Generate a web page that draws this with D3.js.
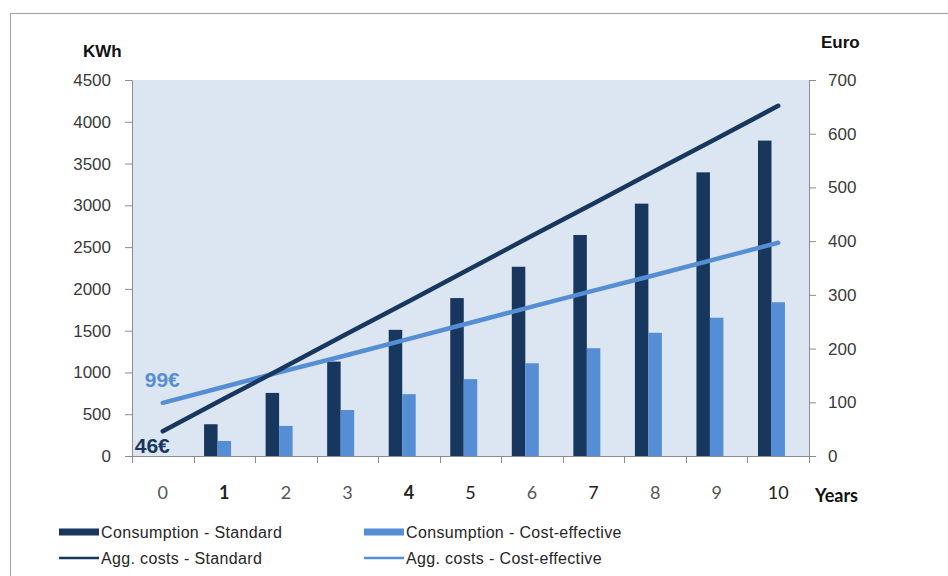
<!DOCTYPE html>
<html>
<head>
<meta charset="utf-8">
<script src="https://cdn.jsdelivr.net/npm/d3@7"></script>
<style>
  html, body { margin: 0; padding: 0; background: #fff; }
  svg { display: block; }
</style>
</head>
<body>
<svg id="chart" width="948" height="576"></svg>
<script>
// Years on the horizontal axis
const years = [0, 1, 2, 3, 4, 5, 6, 7, 8, 9, 10];
// Yearly consumption (KWh), left axis
const consumptionStandard = [0, 380, 755, 1130, 1510, 1890, 2265, 2645, 3020, 3395, 3775];
const consumptionCostEffective = [0, 180, 360, 550, 740, 920, 1110, 1290, 1475, 1655, 1840];
// Aggregated costs (Euro), right axis
const aggCostsStandard = [46, 107, 167, 228, 288, 349, 410, 470, 531, 591, 652];
const aggCostsCostEffective = [99, 129, 159, 188, 218, 248, 278, 308, 337, 367, 397];
// Tick labels
const kwhTicks = [0, 500, 1000, 1500, 2000, 2500, 3000, 3500, 4000, 4500];
const euroTicks = [0, 100, 200, 300, 400, 500, 600, 700];
// Legend entries
const legendItems = [
  { label: "Consumption - Standard", kind: "bar", color: "#17375e" },
  { label: "Consumption - Cost-effective", kind: "bar", color: "#558ed5" },
  { label: "Agg. costs - Standard", kind: "line", color: "#17375e" },
  { label: "Agg. costs - Cost-effective", kind: "line", color: "#558ed5" }
];

const DARK = "#17375e", LIGHT = "#558ed5";
const svg = d3.select("#chart");
const L = 132, R = 809, T = 80, B = 456;

// outer frame
svg.append("rect").attr("x", 10.5).attr("y", 13.5).attr("width", 960).attr("height", 600)
  .attr("fill", "none").attr("stroke", "#a8a8a8").attr("stroke-width", 1.2);

// plot background
svg.append("rect").attr("x", L).attr("y", T).attr("width", R - L).attr("height", B - T)
  .attr("fill", "#dce6f2");

const x = d3.scaleBand().domain(years).range([L, R]).paddingInner(0).paddingOuter(0);
const sub = d3.scaleBand().domain(["std", "cost", "spare"]).range([0, x.bandwidth()])
  .paddingInner(0).paddingOuter(0.78);
const yL = d3.scaleLinear().domain([0, 4500]).range([B, T]);
const yR = d3.scaleLinear().domain([0, 700]).range([B, T]);

// bars
const barSeries = [
  { key: "std", values: consumptionStandard, color: DARK },
  { key: "cost", values: consumptionCostEffective, color: LIGHT }
];
barSeries.forEach(s => {
  svg.append("g").selectAll("rect").data(years.map((yr, i) => ({ yr, v: s.values[i] })))
    .join("rect")
    .attr("x", d => x(d.yr) + sub(s.key))
    .attr("width", sub.bandwidth())
    .attr("y", d => yL(d.v))
    .attr("height", d => B - yL(d.v))
    .attr("fill", s.color);
});

// left axis
const axL = svg.append("g").attr("transform", `translate(${L},0)`)
  .call(d3.axisLeft(yL).tickValues(kwhTicks).tickFormat(d3.format("d")).tickSize(7).tickSizeOuter(0).tickPadding(14));
// right axis
const axR = svg.append("g").attr("transform", `translate(${R},0)`)
  .call(d3.axisRight(yR).tickValues(euroTicks).tickFormat(d3.format("d")).tickSize(7).tickSizeOuter(0).tickPadding(12));
[axL, axR].forEach(ax => {
  ax.select(".domain").attr("stroke", "#8c8c8c");
  ax.selectAll(".tick line").attr("stroke", "#8c8c8c");
  ax.selectAll(".tick text").attr("font-family", "'Liberation Sans', Arial, sans-serif")
    .attr("font-size", 17).attr("fill", "#3a3a3a");
});

// x axis: baseline, boundary ticks, category labels
const xg = svg.append("g");
xg.append("line").attr("x1", L).attr("x2", R).attr("y1", B + 0.5).attr("y2", B + 0.5)
  .attr("stroke", "#8c8c8c");
const bounds = years.map(d => x(d)).concat([x(years[years.length - 1]) + x.bandwidth()]);
xg.selectAll("line.tk").data(bounds).join("line").attr("class", "tk")
  .attr("x1", d => Math.round(d) + 0.5).attr("x2", d => Math.round(d) + 0.5)
  .attr("y1", B).attr("y2", B + 7).attr("stroke", "#8c8c8c");
const strongLabels = new Set([1, 4]);
const darkLabels = new Set([5, 7, 10]);
xg.selectAll("text").data(years).join("text")
  .attr("x", d => x(d) + x.bandwidth() / 2)
  .attr("y", 499)
  .attr("text-anchor", "middle")
  .attr("font-family", "Lato, 'Open Sans', sans-serif")
  .attr("font-size", 18)
  .attr("font-weight", d => strongLabels.has(d) ? "bold" : "normal")
  .attr("fill", d => strongLabels.has(d) || darkLabels.has(d) ? "#222" : "#555")
  .text(d => d);

// aggregated cost lines
const line = d3.line().x((d, i) => x(years[i]) + x.bandwidth() / 2).y(d => yR(d));
[[aggCostsCostEffective, LIGHT], [aggCostsStandard, DARK]].forEach(([vals, c]) => {
  svg.append("path").datum(vals).attr("d", line).attr("fill", "none")
    .attr("stroke", c).attr("stroke-width", 4.5).attr("stroke-linecap", "round");
});

// start-value labels
const cx0 = x(years[0]) + x.bandwidth() / 2;
svg.append("text").attr("x", cx0 - 28).attr("y", yR(aggCostsStandard[0]) + 22)
  .attr("font-family", "'Liberation Sans', Arial, sans-serif").attr("font-weight", "bold")
  .attr("font-size", 21).attr("fill", DARK).text(aggCostsStandard[0] + "€");
svg.append("text").attr("x", cx0 - 18).attr("y", yR(aggCostsCostEffective[0]) - 16)
  .attr("font-family", "'Liberation Sans', Arial, sans-serif").attr("font-weight", "bold")
  .attr("font-size", 21).attr("fill", LIGHT).text(aggCostsCostEffective[0] + "€");

// axis titles
const titleFont = "'Liberation Sans', Arial, sans-serif";
svg.append("text").attr("x", 83).attr("y", 56.5).attr("font-family", titleFont)
  .attr("font-weight", "bold").attr("font-size", 17).attr("fill", "#111").text("KWh");
svg.append("text").attr("x", 821).attr("y", 48).attr("font-family", titleFont)
  .attr("font-weight", "bold").attr("font-size", 17).attr("fill", "#111").text("Euro");
svg.append("text").attr("x", 815).attr("y", 502).attr("font-family", "Lato, 'Open Sans', sans-serif")
  .attr("font-weight", "bold").attr("font-size", 18).attr("fill", "#111").text("Years");

// legend
const legCols = [59, 364], legRows = [532, 558], swW = 42;
const lg = svg.append("g").selectAll("g").data(legendItems).join("g")
  .attr("transform", (d, i) => `translate(${legCols[i % 2]},${legRows[Math.floor(i / 2)]})`);
lg.each(function (d) {
  const g = d3.select(this);
  if (d.kind === "bar") {
    g.append("rect").attr("x", 0).attr("y", -3.5).attr("width", swW - 2).attr("height", 7).attr("fill", d.color);
  } else {
    g.append("line").attr("x1", 0).attr("x2", swW - 2).attr("y1", 0).attr("y2", 0)
      .attr("stroke", d.color).attr("stroke-width", 2.5);
  }
  g.append("text").attr("x", swW).attr("y", 0).attr("dy", "0.35em")
    .attr("font-family", "'Liberation Sans', Arial, sans-serif").attr("font-size", 16)
    .attr("letter-spacing", 0.35)
    .attr("fill", "#262626").text(d.label);
});
</script>
</body>
</html>
